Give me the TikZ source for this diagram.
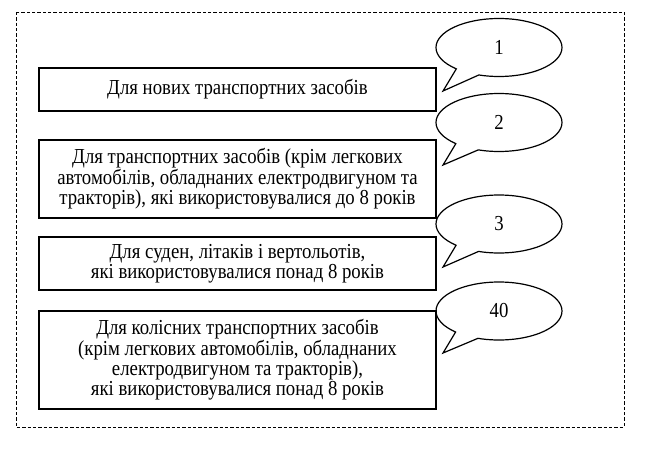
\documentclass[tikz,border=0pt]{standalone}
\usepackage{fontspec}
\setmainfont{Liberation Serif}[FakeStretch=0.88]
\usetikzlibrary{shapes.callouts}

\begin{document}
\begin{tikzpicture}[
    x=0.75pt, y=-0.75pt,
    font=\fontsize{16}{15.3}\selectfont,
    textbox/.style={draw, line width=0.9pt, align=center, inner sep=0pt,
        minimum width=297.75pt},
    bubble/.style={ellipse callout, draw, line width=0.9pt, inner sep=0pt,
        minimum width=94.5pt, minimum height=43.5pt,
        callout absolute pointer={#1}, callout pointer arc=24}
]

    % Page margins and outer frame
    \useasboundingbox (0, 0) rectangle (650, 451);
    \draw[line width=0.7pt, dash pattern=on 2.4pt off 1.6pt]
        (16, 12) rectangle (624, 427);

    % Boxes (left column)
    \node[textbox, minimum height=32.25pt] (new) at (237.5, 89.5)
        {Для нових транспортних засобів};
    \node[textbox, minimum height=58.5pt] (upto) at (237.5, 179)
        {Для транспортних засобів (крім легкових\\
         автомобілів, обладнаних електродвигуном та\\
         тракторів), які використовувалися до 8 років};
    \node[textbox, minimum height=39.75pt] (ships) at (237.5, 263.5)
        {Для суден, літаків і вертольотів,\\
         які використовувалися понад 8 років};
    \node[textbox, minimum height=73.5pt] (wheeled) at (237.5, 360)
        {Для колісних транспортних засобів\\
         (крім легкових автомобілів, обладнаних\\
         електродвигуном та тракторів),\\
         які використовувалися понад 8 років};

    % Callouts (right column), tips just right of the boxes
    \node[bubble={(443, 91)}] (c1) at (499, 47.5) {1};
    \node[bubble={(443, 165)}] (c2) at (499, 122.5) {2};
    \node[bubble={(443, 267)}] (c3) at (499, 224) {3};
    \node[bubble={(443, 353)}] (c4) at (499, 311) {40};

\end{tikzpicture}
\end{document}
